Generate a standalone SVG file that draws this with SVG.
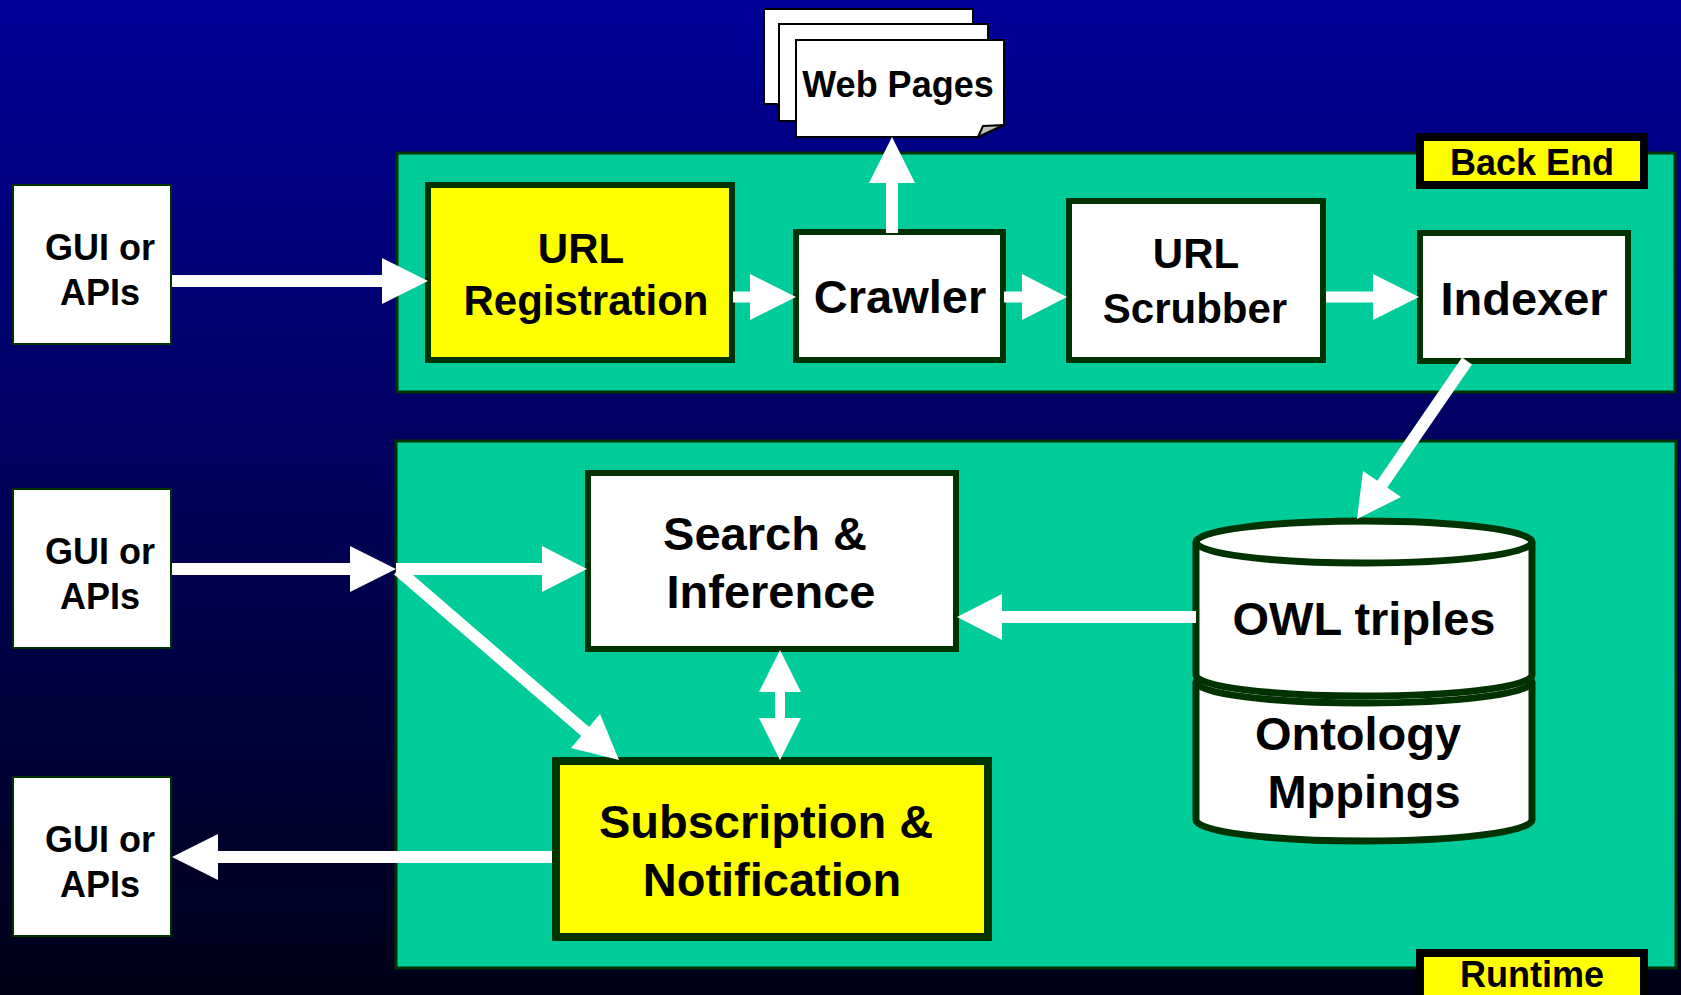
<svg xmlns="http://www.w3.org/2000/svg" width="1681" height="995" viewBox="0 0 1681 995">
<defs>
<linearGradient id="bg" x1="0" y1="0" x2="0" y2="1">
<stop offset="0" stop-color="#000099"/>
<stop offset="1" stop-color="#000018"/>
</linearGradient>
</defs>
<style>
text{font-family:"Liberation Sans",Arial,sans-serif;font-weight:bold;fill:#000;text-anchor:middle}
.panel{fill:#00CC99;stroke:#003300;stroke-width:3}
.box{fill:#fff;stroke:#003300;stroke-width:6}
.ybox{fill:#ffff00;stroke:#003300;stroke-width:6}
.gui{fill:#fff;stroke:#003300;stroke-width:2}
.tag{fill:#ffff00;stroke:#000;stroke-width:8}
.page{fill:#fff;stroke:#000;stroke-width:2}
.cyl{fill:#fff;stroke:#003300;stroke-width:7}
.cylarc{fill:none;stroke:#003300;stroke-width:7}
.shaft{stroke:#fff;stroke-width:12;fill:none}
.head{fill:#fff}
.f36{font-size:36px}
.f42{font-size:42px}
.f47{font-size:47px}
</style>
<rect x="0" y="0" width="1681" height="995" fill="url(#bg)"/>

<g id="backend-panel">
<rect class="panel" x="397" y="153" width="1278" height="239"/>
</g>
<g id="runtime-panel">
<rect class="panel" x="396" y="441" width="1280" height="527"/>
</g>

<g id="backend-label">
<rect class="tag" x="1420" y="137" width="224" height="48"/>
<text class="f36" x="1532" y="175">Back End</text>
</g>
<g id="runtime-label">
<rect class="tag" x="1420" y="953" width="224" height="60"/>
<text class="f36" x="1532" y="987">Runtime</text>
</g>

<g id="web-pages">
<rect class="page" x="764" y="9" width="209" height="95"/>
<rect class="page" x="779" y="24" width="209" height="97"/>
<path class="page" d="M796,40 H1004 V125 L978,137 H796 Z"/>
<path d="M978,137 L983,126 L1004,125 Z" fill="#c0c0c0" stroke="#000" stroke-width="2"/>
<text class="f36" x="898" y="97">Web Pages</text>
</g>

<g id="gui1">
<rect class="gui" x="13" y="185" width="158" height="159"/>
<text class="f36" x="100" y="260">GUI or</text>
<text class="f36" x="100" y="305">APIs</text>
</g>
<g id="gui2">
<rect class="gui" x="13" y="489" width="158" height="159"/>
<text class="f36" x="100" y="564">GUI or</text>
<text class="f36" x="100" y="609">APIs</text>
</g>
<g id="gui3">
<rect class="gui" x="13" y="777" width="158" height="159"/>
<text class="f36" x="100" y="852">GUI or</text>
<text class="f36" x="100" y="897">APIs</text>
</g>

<g id="url-registration">
<rect class="ybox" x="428" y="185" width="304" height="175"/>
<text class="f42" x="581" y="263">URL</text>
<text class="f42" x="586" y="315">Registration</text>
</g>
<g id="crawler">
<rect class="box" x="796" y="232" width="207" height="128"/>
<text class="f47" x="900" y="313">Crawler</text>
</g>
<g id="url-scrubber">
<rect class="box" x="1069" y="201" width="254" height="159"/>
<text class="f42" x="1196" y="268">URL</text>
<text class="f42" x="1195" y="323">Scrubber</text>
</g>
<g id="indexer">
<rect class="box" x="1420" y="233" width="208" height="128"/>
<text class="f47" x="1524" y="315">Indexer</text>
</g>

<g id="search-inference">
<rect class="box" x="588" y="473" width="368" height="176"/>
<text class="f47" x="765" y="550">Search &amp;</text>
<text class="f47" x="771" y="608">Inference</text>
</g>
<g id="subscription-notification">
<rect class="ybox" style="stroke-width:8" x="556" y="761" width="432" height="176"/>
<text class="f47" x="766" y="838">Subscription &amp;</text>
<text class="f47" x="772" y="896">Notification</text>
</g>

<g id="owl-store">
<path class="cyl" d="M1196,682 A168,21 0 0 1 1532,682 V820 A168,21 0 0 1 1196,820 Z"/>
<path class="cylarc" d="M1196,682 A168,21 0 0 0 1532,682"/>
<path class="cyl" d="M1196,542 A168,21 0 0 1 1532,542 V675 A168,21 0 0 1 1196,675 Z"/>
<path class="cylarc" d="M1196,542 A168,21 0 0 0 1532,542"/>
<text class="f47" x="1364" y="635">OWL triples</text>
<text class="f47" x="1358" y="750">Ontology</text>
<text class="f47" x="1364" y="808">Mppings</text>
</g>

<g id="connectors">
<line class="shaft" x1="172" y1="281" x2="384" y2="281"/>
<polygon class="head" points="382,258 428,281 382,304"/>
<line class="shaft" style="stroke-width:11" x1="733" y1="297" x2="752" y2="297"/>
<polygon class="head" points="750,274 796,297 750,320"/>
<line class="shaft" x1="892" y1="233" x2="892" y2="181"/>
<polygon class="head" points="869,183 892,137 915,183"/>
<line class="shaft" style="stroke-width:11" x1="1004" y1="297" x2="1024" y2="297"/>
<polygon class="head" points="1022,274 1067,297 1022,320"/>
<line class="shaft" style="stroke-width:11" x1="1326" y1="297" x2="1375" y2="297"/>
<polygon class="head" points="1373,274 1419,297 1373,320"/>
<line class="shaft" x1="1467" y1="361" x2="1381" y2="486"/>
<polygon class="head" points="1363,471 1357,519 1401,497"/>
<line class="shaft" x1="172" y1="569" x2="352" y2="569"/>
<polygon class="head" points="350,546 396,569 350,592"/>
<line class="shaft" x1="396" y1="569" x2="544" y2="569"/>
<polygon class="head" points="542,546 587,569 542,592"/>
<line class="shaft" x1="398" y1="570" x2="587" y2="733"/>
<polygon class="head" points="571,748 619,760 600,714"/>
<line class="shaft" x1="1196" y1="617" x2="1000" y2="617"/>
<polygon class="head" points="1002,594 957,617 1002,640"/>
<line class="shaft" style="stroke-width:10" x1="780" y1="690" x2="780" y2="720"/>
<polygon class="head" points="759,692 780,650 801,692"/>
<polygon class="head" points="759,718 780,760 801,718"/>
<line class="shaft" x1="552" y1="857" x2="216" y2="857"/>
<polygon class="head" points="218,834 172,857 218,880"/>
</g>
</svg>
